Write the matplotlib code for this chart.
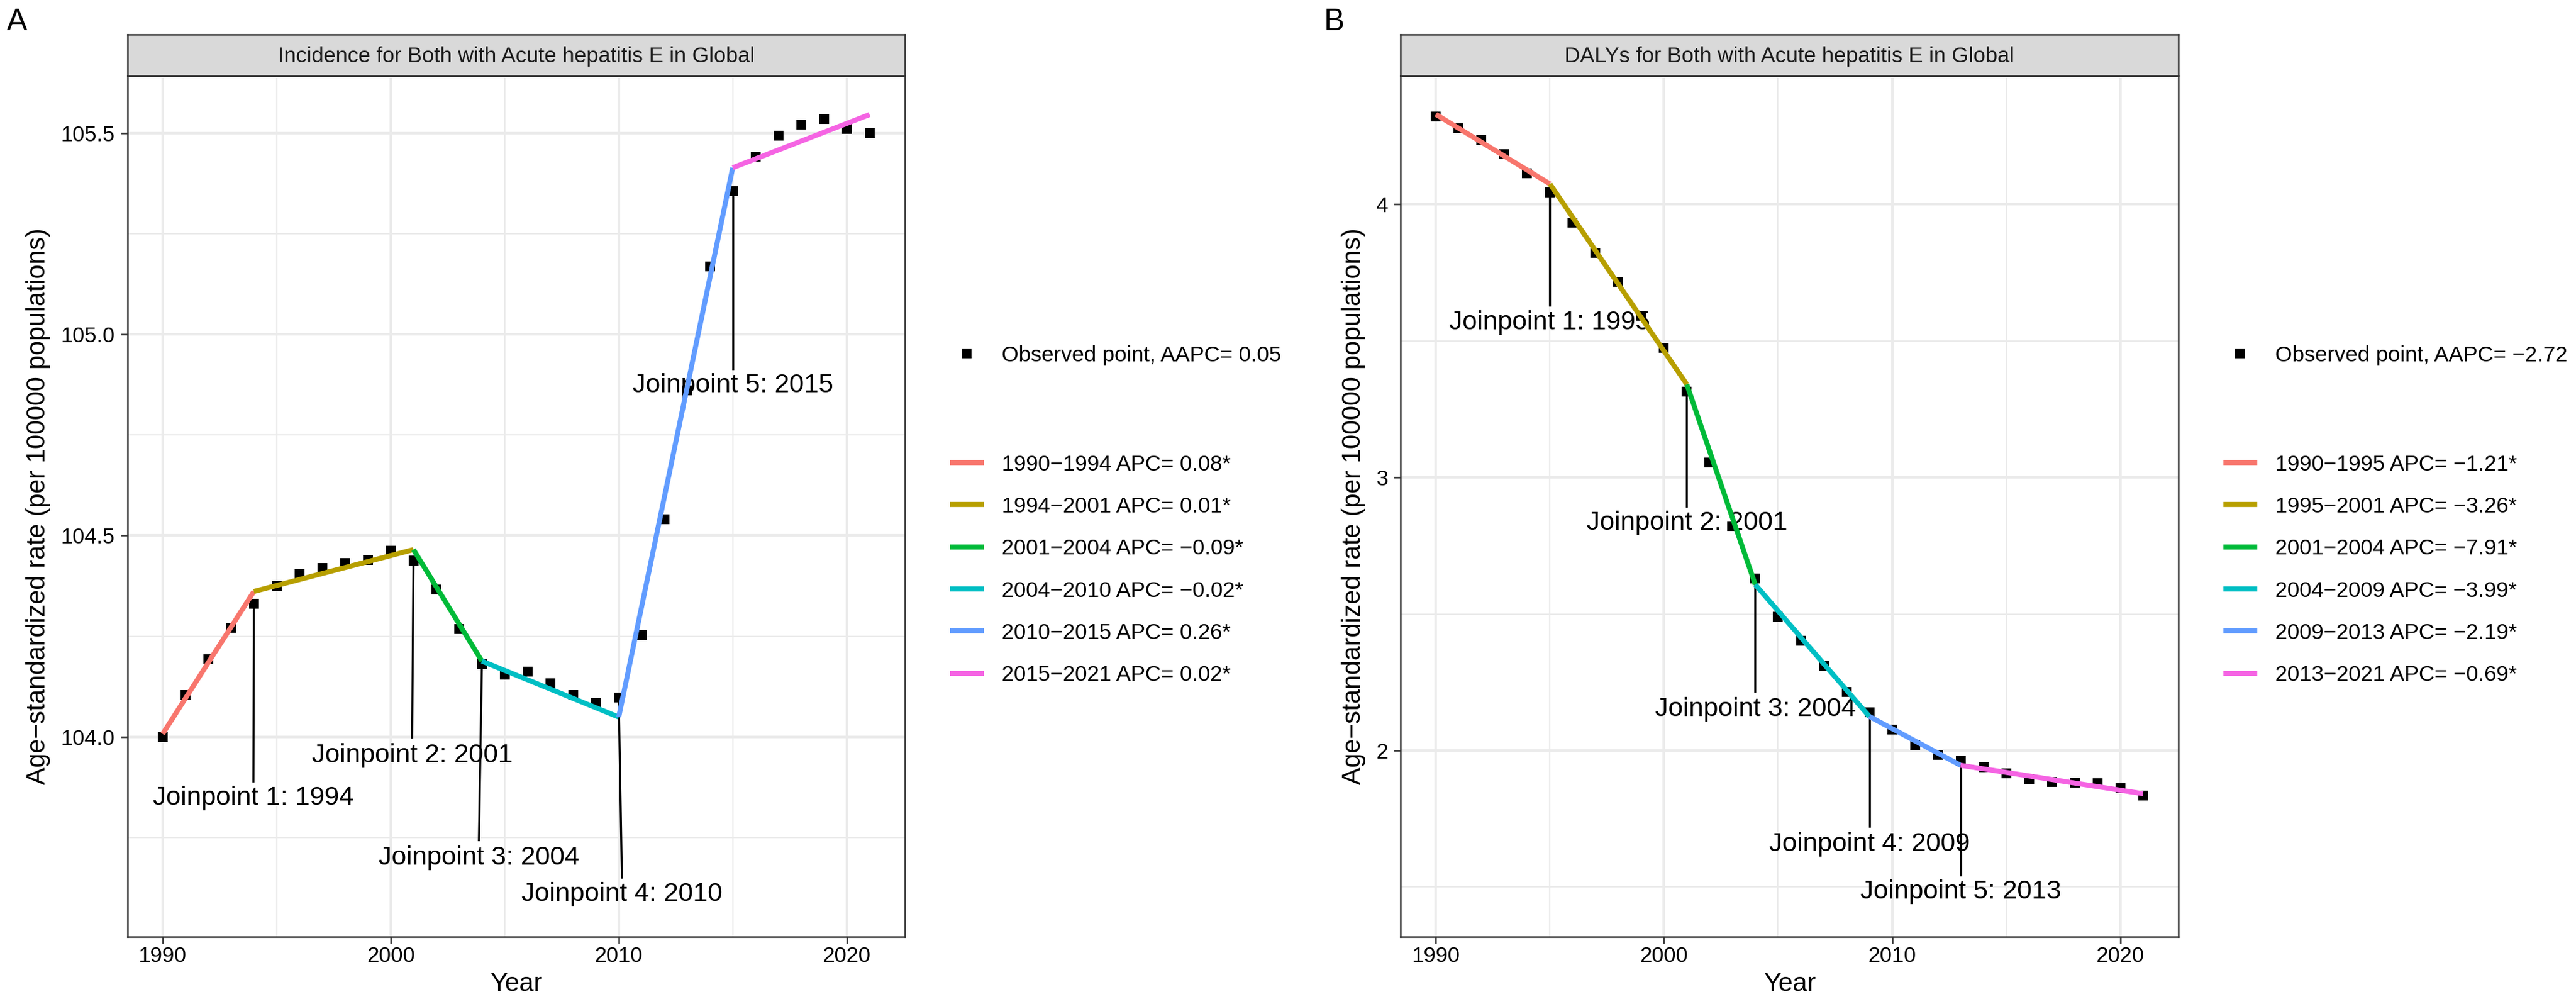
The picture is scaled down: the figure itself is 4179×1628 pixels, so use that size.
import numpy as np
import matplotlib
matplotlib.use("Agg")
import matplotlib.pyplot as plt
from matplotlib.lines import Line2D
from matplotlib.ticker import FormatStrFormatter

plt.rcParams['font.family'] = ['Liberation Sans', 'DejaVu Sans']

#%% data
years = np.arange(1990, 2022)

# A: incidence
inc_obs = [104.00, 104.103, 104.192, 104.271, 104.331, 104.375, 104.404, 104.420,
           104.431, 104.439, 104.463, 104.438, 104.365, 104.267, 104.181, 104.154,
           104.162, 104.133, 104.103, 104.084, 104.098, 104.252, 104.541, 104.86,
           105.169, 105.356, 105.441, 105.494, 105.521, 105.535, 105.510, 105.500]
inc_nodes = [1990, 1994, 2001, 2004, 2010, 2015, 2021]
inc_fit = [104.007, 104.361, 104.465, 104.188, 104.049, 105.414, 105.546]
inc_seg_labels = ['1990\u22121994 APC= 0.08*', '1994\u22122001 APC= 0.01*',
                  '2001\u22122004 APC= \u22120.09*', '2004\u22122010 APC= \u22120.02*',
                  '2010\u22122015 APC= 0.26*', '2015\u22122021 APC= 0.02*']
inc_aapc = 'Observed point, AAPC= 0.05'
inc_jp = [1994, 2001, 2004, 2010, 2015]
inc_jp_end = [103.889, 103.998, 103.743, 103.650, 104.914]
inc_jp_text_x = [1993.98, 2000.94, 2003.87, 2010.14, 2015.0]
inc_jp_text_y = [103.855, 103.961, 103.706, 103.615, 104.879]

# B: DALYs
daly_obs = [4.321, 4.280, 4.236, 4.183, 4.114, 4.045, 3.934, 3.822, 3.717, 3.593,
            3.476, 3.314, 3.054, 2.823, 2.630, 2.491, 2.403, 2.310, 2.214, 2.140,
            2.077, 2.020, 1.984, 1.962, 1.940, 1.916, 1.897, 1.886, 1.883, 1.881,
            1.863, 1.836]
daly_nodes = [1990, 1995, 2001, 2004, 2009, 2013, 2021]
daly_fit = [4.330, 4.075, 3.341, 2.608, 2.125, 1.946, 1.842]
daly_seg_labels = ['1990\u22121995 APC= \u22121.21*', '1995\u22122001 APC= \u22123.26*',
                   '2001\u22122004 APC= \u22127.91*', '2004\u22122009 APC= \u22123.99*',
                   '2009\u22122013 APC= \u22122.19*', '2013\u22122021 APC= \u22120.69*']
daly_aapc = 'Observed point, AAPC= \u22122.72'
daly_jp = [1995, 2001, 2004, 2009, 2013]
daly_jp_end = [3.630, 2.894, 2.217, 1.723, 1.544]
daly_jp_text_x = [1995, 2001, 2004, 2009, 2013]
daly_jp_text_y = [3.577, 2.843, 2.161, 1.666, 1.493]

seg_colors = ['#F8766D', '#B79F00', '#00BA38', '#00BFC4', '#619CFF', '#F564E3']
ylab = 'Age\u2212standardized rate (per 100000 populations)'

#%% layout (pixels)
W, H, DPI = 4179, 1628, 300
fig = plt.figure(figsize=(W / DPI, H / DPI), dpi=DPI)
fig.patch.set_facecolor('white')


def fx(x):
    return x / W


def fy(y):
    return 1 - y / H


def rect(x0, y0, x1, y1):
    return [x0 / W, 1 - y1 / H, (x1 - x0) / W, (y1 - y0) / H]


PT, PB, ST = 122.5, 1519, 55.5


def panel(x0, x1, tag, tag_x, title, obs, nodes, fit, seg_labels, aapc,
          jp, jp_end, jp_tx, jp_ty, ylim, yt, ytm, fmt, ylab_x):
    ax = fig.add_axes(rect(x0, PT, x1, PB))
    ax.set_xlim(1988.45, 2022.55)
    ax.set_ylim(*ylim)
    ax.set_xticks([1990, 2000, 2010, 2020])
    ax.set_xticks([1995, 2005, 2015], minor=True)
    ax.set_yticks(yt)
    ax.set_yticks(ytm, minor=True)
    ax.yaxis.set_major_formatter(FormatStrFormatter(fmt))
    ax.grid(which='major', color='#EBEBEB', lw=1.0)
    ax.grid(which='minor', color='#EBEBEB', lw=0.55)
    ax.set_axisbelow(True)
    ax.tick_params(which='minor', length=0)
    ax.tick_params(which='major', length=2.76, width=0.6, color='#333333',
                   labelsize=8.4, labelcolor='black')
    ax.tick_params(axis='x', pad=0.8)
    ax.tick_params(axis='y', pad=2.1)
    for s in ax.spines.values():
        s.set_color('#333333')
        s.set_linewidth(0.6)

    obs = np.array(obs)
    # joinpoint pointers
    for j, e, tx, ty in zip(jp, jp_end, jp_tx, jp_ty):
        k = list(years).index(j)
        ax.plot([j, tx], [obs[k], e], color='black', lw=0.8, zorder=2.5)
        ax.annotate('Joinpoint %d: %d' % (jp.index(j) + 1, j), xy=(tx, ty),
                    xytext=(0, -3.7), textcoords='offset points',
                    ha='center', va='baseline', fontsize=10.3, zorder=2.6)
    ax.plot(years, obs, 's', color='black', ms=3.7, mew=0, zorder=3)
    for i in range(len(nodes) - 1):
        ax.plot(nodes[i:i + 2], fit[i:i + 2], color=seg_colors[i], lw=1.95,
                solid_capstyle='butt', zorder=4)

    # strip
    sx = fig.add_axes(rect(x0, ST, x1, PT))
    sx.set_facecolor('#D9D9D9')
    sx.set_xticks([])
    sx.set_yticks([])
    for s in sx.spines.values():
        s.set_color('#333333')
        s.set_linewidth(0.6)
    fig.text(fx((x0 + x1) / 2), fy(101.5), title, ha='center', va='baseline',
             fontsize=8.4, color='#1A1A1A')

    fig.text(fx(tag_x), fy(49), tag, fontsize=12, va='baseline', ha='left')
    fig.text(fx((x0 + x1) / 2), fy(1607), 'Year', ha='center', va='baseline',
             fontsize=10.1)
    fig.text(fx(ylab_x), fy((PT + PB) / 2), ylab, rotation=90, ha='center',
             va='center', fontsize=10.1)

    # legend
    fig.add_artist(Line2D([fx(x1 + 100)], [fy(573)], marker='s', ms=4.0, mew=0,
                          color='black', transform=fig.transFigure))
    fig.text(fx(x1 + 157), fy(573 + 12.7), aapc, fontsize=8.5, va='baseline')
    for i, lab in enumerate(seg_labels):
        yy = 750 + i * 68.3
        fig.add_artist(Line2D([fx(x1 + 73), fx(x1 + 128)], [fy(yy), fy(yy)],
                              lw=2.0, color=seg_colors[i], solid_capstyle='butt',
                              transform=fig.transFigure))
        fig.text(fx(x1 + 157), fy(yy + 12.7), lab, fontsize=8.5, va='baseline')
    return ax


panel(206.5, 1468, 'A', 11, 'Incidence for Both with Acute hepatitis E in Global',
      inc_obs, inc_nodes, inc_fit, inc_seg_labels, inc_aapc,
      inc_jp, inc_jp_end, inc_jp_text_x, inc_jp_text_y,
      (103.503, 105.643), [104.0, 104.5, 105.0, 105.5],
      [103.75, 104.25, 104.75, 105.25], '%.1f', 62)

panel(2272, 3534, 'B', 2148, 'DALYs for Both with Acute hepatitis E in Global',
      daly_obs, daly_nodes, daly_fit, daly_seg_labels, daly_aapc,
      daly_jp, daly_jp_end, daly_jp_text_x, daly_jp_text_y,
      (1.318, 4.472), [2, 3, 4], [1.5, 2.5, 3.5], '%d', 2196.5)

fig.savefig('out.png', dpi=DPI)
